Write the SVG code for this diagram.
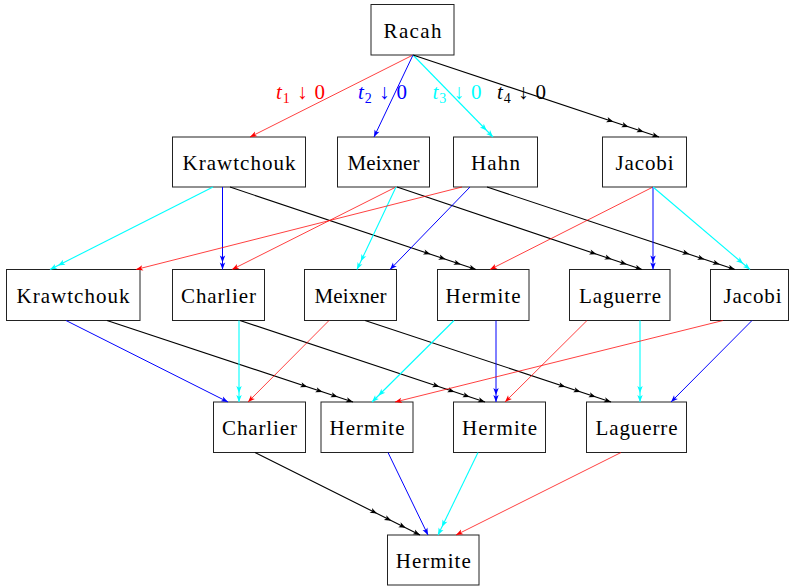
<svg xmlns="http://www.w3.org/2000/svg" width="789" height="587" viewBox="0 0 789 587">
<style>
.box{fill:#fff;stroke:#222;stroke-width:1}
.t{font-family:"Liberation Serif","Times New Roman",serif;font-size:21px;fill:#000;text-anchor:middle}
.lbl{font-family:"Liberation Serif","Times New Roman",serif;font-size:21px}
.r{stroke:#f00;stroke-width:.75;fill:none;marker-end:url(#mr)}
.b{stroke:#00f;stroke-width:1;fill:none;marker-end:url(#mb)}
.b2{stroke:#00f;stroke-width:1;fill:none;marker-end:url(#mb2)}
.c{stroke:#0ff;stroke-width:1.1;fill:none;marker-end:url(#mc)}
.k{stroke:#000;stroke-width:1.1;fill:none;marker-end:url(#mk)}
</style>
<defs>
<marker id="mr" markerUnits="userSpaceOnUse" orient="auto" refX="0" refY="0" markerWidth="10" markerHeight="10" style="overflow:visible"><path d="M0,0 L-7,-2.7 L-5.2,0 L-7,2.7Z" fill="#f00"/></marker>
<marker id="mb" markerUnits="userSpaceOnUse" orient="auto" refX="0" refY="0" markerWidth="10" markerHeight="10" style="overflow:visible"><path d="M0,0 L-7,-2.7 L-5.2,0 L-7,2.7Z" fill="#00f"/></marker>
<marker id="mb2" markerUnits="userSpaceOnUse" orient="auto" refX="0" refY="0" markerWidth="10" markerHeight="10" style="overflow:visible"><path d="M0,0 L-7,-2.7 L-5.2,0 L-7,2.7Z M-7,0 L-14,-2.7 L-12.2,0 L-14,2.7Z" fill="#00f"/></marker>
<marker id="mc" markerUnits="userSpaceOnUse" orient="auto" refX="0" refY="0" markerWidth="10" markerHeight="10" style="overflow:visible"><path d="M0,0 L-7,-2.7 L-5.2,0 L-7,2.7Z M-9,0 L-16,-2.7 L-14.2,0 L-16,2.7Z" fill="#0ff"/></marker>
<marker id="mk" markerUnits="userSpaceOnUse" orient="auto" refX="0" refY="0" markerWidth="10" markerHeight="10" style="overflow:visible"><path d="M0,0 L-7,-2.7 L-5.2,0 L-7,2.7Z M-16,0 L-23,-2.7 L-21.2,0 L-23,2.7Z M-32,0 L-39,-2.7 L-37.2,0 L-39,2.7Z M-48,0 L-55,-2.7 L-53.2,0 L-55,2.7Z" fill="#000"/></marker>
</defs>

<g id="nodes">
<g id="racah"><rect class="box" x="371" y="4.5" width="83" height="50.5"/><text class="t" x="412.5" y="37.5" textLength="58">Racah</text></g>

<g id="krawtchouk1"><rect class="box" x="172.5" y="137" width="133" height="50"/><text class="t" x="239" y="170" textLength="113">Krawtchouk</text></g>
<g id="meixner1"><rect class="box" x="337.5" y="137" width="92" height="50"/><text class="t" x="383.5" y="170" textLength="72">Meixner</text></g>
<g id="hahn1"><rect class="box" x="453.5" y="137" width="84" height="50"/><text class="t" x="495.5" y="170" textLength="49">Hahn</text></g>
<g id="jacobi1"><rect class="box" x="602.5" y="137" width="84" height="50"/><text class="t" x="644.5" y="170" textLength="58">Jacobi</text></g>

<g id="krawtchouk2"><rect class="box" x="6.5" y="269.5" width="133.5" height="51"/><text class="t" x="73" y="303" textLength="113">Krawtchouk</text></g>
<g id="charlier2"><rect class="box" x="172.5" y="269.5" width="92" height="51"/><text class="t" x="218.5" y="303" textLength="75">Charlier</text></g>
<g id="meixner2"><rect class="box" x="304.5" y="269.5" width="92" height="51"/><text class="t" x="350.5" y="303" textLength="72">Meixner</text></g>
<g id="hermite2"><rect class="box" x="437.5" y="269.5" width="91.5" height="51"/><text class="t" x="483" y="303" textLength="75">Hermite</text></g>
<g id="laguerre2"><rect class="box" x="569.5" y="269.5" width="100.5" height="51"/><text class="t" x="620" y="303" textLength="82">Laguerre</text></g>
<g id="jacobi2"><rect class="box" x="710.5" y="269.5" width="78" height="51"/><text class="t" x="752.5" y="303" textLength="58">Jacobi</text></g>

<g id="charlier3"><rect class="box" x="213.5" y="402" width="92" height="50.5"/><text class="t" x="259.5" y="435" textLength="75">Charlier</text></g>
<g id="hermite3a"><rect class="box" x="321" y="402" width="92" height="50.5"/><text class="t" x="367" y="435" textLength="75">Hermite</text></g>
<g id="hermite3b"><rect class="box" x="453.5" y="402" width="92" height="50.5"/><text class="t" x="499.5" y="435" textLength="75">Hermite</text></g>
<g id="laguerre3"><rect class="box" x="586.5" y="402" width="100" height="50.5"/><text class="t" x="636.5" y="435" textLength="82">Laguerre</text></g>

<g id="hermite4"><rect class="box" x="387.5" y="535" width="91.5" height="50"/><text class="t" x="433.3" y="568" textLength="75">Hermite</text></g>
</g>

<g id="connectors">
<path class="r" d="M413,55 L250,137"/>
<path class="b" d="M413,55 L374,137"/>
<path class="c" d="M413,55 L493,137"/>
<path class="k" d="M413,55 L659,137"/>

<path class="c" d="M213,187 L50,269.5"/>
<path class="b2" d="M222.5,187 L222.5,269.5"/>
<path class="k" d="M230,187 L476,269.5"/>
<path class="r" d="M396,187 L232,269.5"/>
<path class="c" d="M396,187 L357,269.5"/>
<path class="k" d="M397,187 L642,269.5"/>
<path class="r" d="M462,187 L136,269.5"/>
<path class="b" d="M470,187 L390,269.5"/>
<path class="k" d="M487,187 L735,269.5"/>
<path class="r" d="M653,187 L490,269.5"/>
<path class="b2" d="M653,187 L653,269.5"/>
<path class="c" d="M653,187 L750,269.5"/>

<path class="b" d="M66,320.5 L228,402"/>
<path class="k" d="M107,320.5 L353,402"/>
<path class="c" d="M239,320.5 L239,402"/>
<path class="k" d="M240,320.5 L485,402"/>
<path class="r" d="M329,320.5 L248,402"/>
<path class="k" d="M365,320.5 L611,402"/>
<path class="c" d="M454,320.5 L372,402"/>
<path class="b2" d="M496,320.5 L496,402"/>
<path class="r" d="M587,320.5 L505,402"/>
<path class="c" d="M640,320.5 L640,402"/>
<path class="r" d="M723,320.5 L395,402"/>
<path class="b" d="M752,320.5 L671,402"/>

<path class="k" d="M255,452.5 L420,535"/>
<path class="b" d="M388,452.5 L428,535"/>
<path class="c" d="M478,452.5 L438,535"/>
<path class="r" d="M621,452.5 L456,535"/>
</g>

<g id="labels">
<text class="lbl" x="276" y="98.5" fill="#f00" textLength="49"><tspan font-style="italic">t</tspan><tspan font-size="14" dy="4">1</tspan><tspan dy="-4"> ↓ 0</tspan></text>
<text class="lbl" x="358" y="98.5" fill="#00f" textLength="49"><tspan font-style="italic">t</tspan><tspan font-size="14" dy="4">2</tspan><tspan dy="-4"> ↓ 0</tspan></text>
<text class="lbl" x="432.5" y="98.5" fill="#0ff" textLength="49"><tspan font-style="italic">t</tspan><tspan font-size="14" dy="4">3</tspan><tspan dy="-4"> ↓ 0</tspan></text>
<text class="lbl" x="497" y="98.5" fill="#000" textLength="49"><tspan font-style="italic">t</tspan><tspan font-size="14" dy="4">4</tspan><tspan dy="-4"> ↓ 0</tspan></text>
</g>
</svg>
